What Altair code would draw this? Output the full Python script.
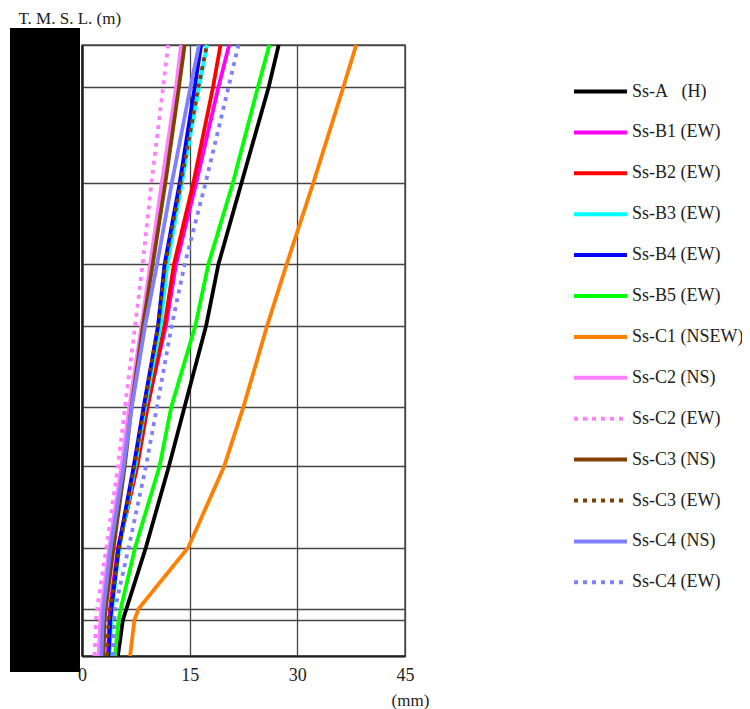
import altair as alt
import pandas as pd

# Elevation levels (T.M.S.L., m), bottom -> top
levels = [-8.2, -5.3, -4.4, 0.5, 7.0, 11.8, 18.3, 23.2, 29.7, 37.4, 40.8]

NB = "\u00a0"
names = [
    "Ss-A" + NB * 3 + "(H)", "Ss-B1" + NB + "(EW)", "Ss-B2" + NB + "(EW)",
    "Ss-B3" + NB + "(EW)", "Ss-B4" + NB + "(EW)", "Ss-B5" + NB + "(EW)",
    "Ss-C1" + NB + "(NSEW)", "Ss-C2" + NB + "(NS)", "Ss-C2" + NB + "(EW)",
    "Ss-C3" + NB + "(NS)", "Ss-C3" + NB + "(EW)", "Ss-C4" + NB + "(NS)",
    "Ss-C4" + NB + "(EW)",
]
colors = [
    "#000000", "#ff00ff", "#ff0000", "#00ffff", "#0000ff", "#00ff00",
    "#ff8000", "#ff80ff", "#ff80ff", "#804000", "#804000", "#8080ff", "#8080ff",
]
solid = [1, 0]
dotted = [4, 5]
dashes = [solid, solid, solid, solid, solid, solid, solid,
          solid, dotted, solid, dotted, solid, dotted]

# Maximum displacement (mm) at each level, bottom -> top
ss_a = [5.0, 5.7, 6.2, 8.9, 12.1, 14.3, 17.3, 19.0, 22.2, 26.0, 27.4]
ss_b1 = [3.6, 3.8, 3.9, 5.0, 7.6, 9.05, 11.7, 13.1, 15.9, 19.0, 20.5]
ss_b2 = [3.7, 3.9, 4.0, 5.1, 7.7, 9.15, 11.5, 12.8, 15.5, 18.25, 19.3]
ss_b3 = [3.8, 4.1, 4.2, 5.2, 7.4, 8.8, 10.95, 11.9, 13.9, 16.3, 17.4]
ss_b4 = [3.7, 3.95, 4.1, 5.1, 7.2, 8.6, 10.6, 11.5, 13.6, 15.7, 16.6]
ss_b5 = [4.6, 5.1, 5.4, 7.4, 10.8, 12.45, 15.8, 17.6, 21.0, 24.5, 26.1]
ss_c1 = [6.7, 7.3, 7.9, 14.8, 19.8, 22.5, 25.8, 28.5, 32.2, 36.4, 38.2]
ss_c2_ns = [2.3, 2.55, 2.7, 3.8, 5.5, 6.6, 8.3, 9.5, 11.1, 13.1, 13.8]
ss_c2_ew = [1.75, 1.95, 2.1, 3.4, 5.0, 6.0, 7.4, 8.45, 9.66, 11.3, 12.0]
ss_c3_ns = [3.0, 3.15, 3.3, 4.4, 5.95, 6.9, 8.5, 9.85, 11.6, 13.5, 14.3]
ss_c3_ew = [3.5, 3.7, 3.95, 5.2, 7.3, 8.7, 10.6, 11.6, 13.75, 16.2, 17.4]
ss_c4_ns = [2.7, 2.9, 3.0, 4.0, 5.8, 6.95, 8.8, 10.45, 12.5, 15.1, 16.3]
ss_c4_ew = [4.3, 4.5, 4.6, 6.5, 8.9, 10.45, 12.5, 14.3, 17.2, 20.4, 21.8]

series = [ss_a, ss_b1, ss_b2, ss_b3, ss_b4, ss_b5, ss_c1,
          ss_c2_ns, ss_c2_ew, ss_c3_ns, ss_c3_ew, ss_c4_ns, ss_c4_ew]

rows = []
for name, vals in zip(names, series):
    for lev, v in zip(levels, vals):
        rows.append({"series": name, "elev": lev, "disp": v})
df = pd.DataFrame(rows)

legend = alt.Legend(
    title=None, orient="none", legendX=490, legendY=18,
    symbolSize=2809, symbolStrokeWidth=4, symbolType="stroke",
    labelFont="Liberation Serif", labelFontSize=18, labelColor="#222",
    labelOffset=3, rowPadding=2.9, labelLimit=300,
)

lines = alt.Chart(df).mark_line(strokeWidth=3.8, strokeCap="butt").encode(
    x=alt.X("disp:Q",
            scale=alt.Scale(domain=[0, 45], nice=False, zero=True),
            axis=alt.Axis(values=[0, 15, 30, 45], title="(mm)", grid=True,
                          ticks=False, labelFont="Liberation Serif",
                          labelFontSize=18, labelColor="#222", labelPadding=10,
                          labelFlush=False,
                          titleFont="Liberation Serif", titleFontSize=17,
                          titleFontWeight="normal", titleColor="#222",
                          titleX=328, titleY=44, titleAlign="center",
                          titleBaseline="middle",
                          domainColor="#222", domainWidth=2,
                          gridColor="#444", gridWidth=1.3)),
    y=alt.Y("elev:Q",
            scale=alt.Scale(domain=[levels[0], levels[-1]], nice=False, zero=False),
            axis=alt.Axis(values=levels, labels=False, ticks=False, grid=True,
                          title="T. M. S. L. (m)", titleAngle=0,
                          titleFont="Liberation Serif", titleFontSize=17,
                          titleFontWeight="normal", titleColor="#222",
                          titleX=-64, titleY=-27, titleAlign="left",
                          titleBaseline="middle",
                          domainColor="#222", domainWidth=2.5,
                          gridColor="#444", gridWidth=1.3)),
    color=alt.Color("series:N", scale=alt.Scale(domain=names, range=colors),
                    legend=legend),
    strokeDash=alt.StrokeDash("series:N", scale=alt.Scale(domain=names, range=dashes),
                              legend=legend),
    order=alt.Order("elev:Q"),
)

box = alt.Chart(pd.DataFrame({"k": [0]})).mark_rect(color="black").encode(
    x=alt.value(-72), x2=alt.value(-2), y=alt.value(-17), y2=alt.value(627)
)

chart = alt.layer(box, lines).properties(
    width=323, height=611, autosize="none",
    padding={"left": 74, "top": 37, "right": 337, "bottom": 53},
).configure_view(stroke="#555", strokeWidth=1.5)

chart.save("out.html", embed_options={"renderer": "svg", "actions": False})
